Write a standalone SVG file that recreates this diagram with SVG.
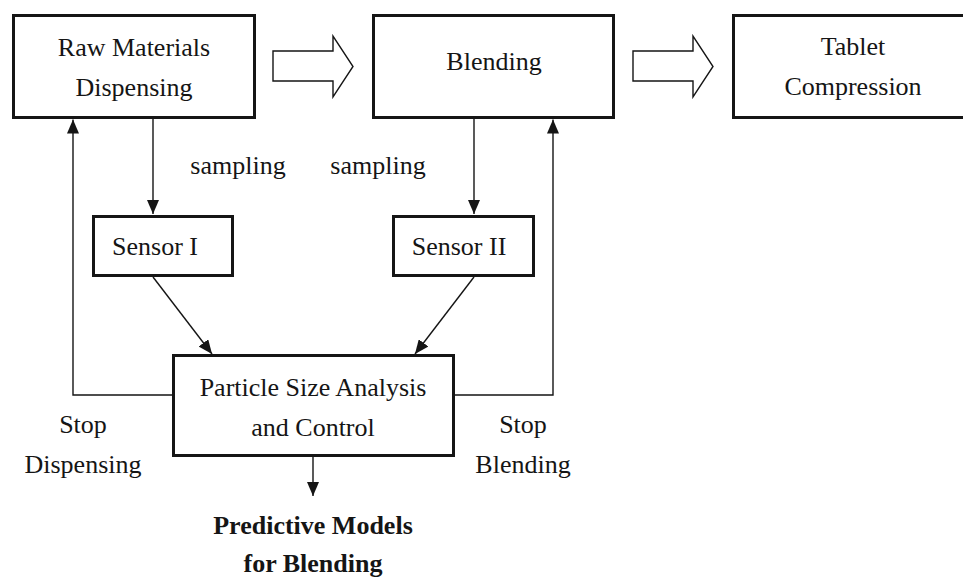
<svg xmlns="http://www.w3.org/2000/svg" width="963" height="578" viewBox="0 0 963 578">
<style>
.box{fill:#fff;stroke:#151515;stroke-width:3}
.ln{fill:none;stroke:#151515;stroke-width:1.4}
.hollow{fill:#fff;stroke:#151515;stroke-width:1.4;stroke-linejoin:miter}
text{font-family:"Liberation Serif","Times New Roman",serif;font-size:26px;fill:#151515;text-anchor:middle}
.b{font-weight:bold}
</style>
<defs>
<marker id="ah" viewBox="0 0 14 12" refX="14" refY="6" markerWidth="14" markerHeight="12" markerUnits="userSpaceOnUse" orient="auto">
<path d="M0,0 L14,6 L0,12 Z" fill="#151515"/>
</marker>
</defs>
<rect width="963" height="578" fill="#fff"/>
<g id="connectors">
<polygon class="hollow" points="273,51 333,51 333,36 353,66.5 333,97 333,81 273,81"/>
<polygon class="hollow" points="633,51 693,51 693,36 713,66.5 693,97 693,81 633,81"/>
<line class="ln" x1="153" y1="119" x2="153" y2="214" marker-end="url(#ah)"/>
<line class="ln" x1="474" y1="119" x2="474" y2="214" marker-end="url(#ah)"/>
<line class="ln" x1="153" y1="277" x2="212" y2="354" marker-end="url(#ah)"/>
<line class="ln" x1="474" y1="277" x2="415" y2="354" marker-end="url(#ah)"/>
<polyline class="ln" points="172,395 73,395 73,119.5" marker-end="url(#ah)"/>
<polyline class="ln" points="455,395 553,395 553,119.5" marker-end="url(#ah)"/>
<line class="ln" x1="313" y1="457" x2="313" y2="496" marker-end="url(#ah)"/>
<text x="238" y="174">sampling</text>
<text x="378" y="174">sampling</text>
<text x="83" y="433">Stop</text>
<text x="83" y="473">Dispensing</text>
<text x="523" y="433">Stop</text>
<text x="523" y="473">Blending</text>
</g>
<g id="raw">
<rect class="box" x="13.5" y="15.5" width="241" height="102"/>
<text x="134" y="56">Raw Materials</text>
<text x="134" y="96">Dispensing</text>
</g>
<g id="blending">
<rect class="box" x="373.5" y="15.5" width="240" height="102"/>
<text x="494" y="70">Blending</text>
</g>
<g id="tablet">
<rect class="box" x="733.5" y="15.5" width="240" height="102"/>
<text x="853" y="55">Tablet</text>
<text x="853" y="95">Compression</text>
</g>
<g id="sensor1">
<rect class="box" x="93.5" y="216.5" width="139" height="59"/>
<text x="155" y="255">Sensor I</text>
</g>
<g id="sensor2">
<rect class="box" x="393.5" y="216.5" width="140" height="59"/>
<text x="459" y="255">Sensor II</text>
</g>
<g id="psa">
<rect class="box" x="173.5" y="355.5" width="280" height="100"/>
<text x="313" y="396">Particle Size Analysis</text>
<text x="313" y="436">and Control</text>
</g>
<g id="predictive">
<text class="b" x="313" y="534">Predictive Models</text>
<text class="b" x="313" y="572">for Blending</text>
</g>
</svg>
